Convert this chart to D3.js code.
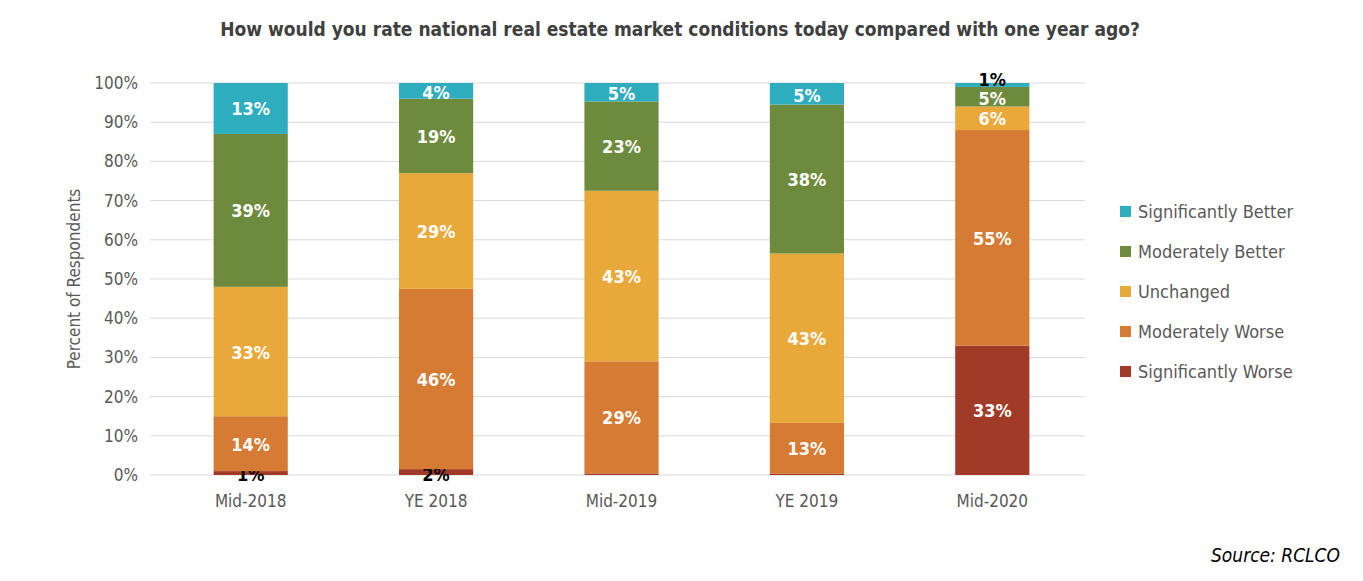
<!DOCTYPE html>
<html><head><meta charset="utf-8">
<script src="https://cdn.jsdelivr.net/npm/d3@7"></script>
<style>
body{margin:0;background:#fff;}
text{font-family:"Liberation Sans Narrow","DejaVu Sans Condensed",sans-serif;}
</style></head>
<body><svg id="chart" width="1363" height="581"></svg>
<script>
const periods = ["Mid-2018", "YE 2018", "Mid-2019", "YE 2019", "Mid-2020"];
const seriesNames = ["Significantly Worse", "Moderately Worse", "Unchanged", "Moderately Better", "Significantly Better"];
const sigWorse = [1, 1.5, 0.4, 0.3, 33];
const modWorse = [14, 46, 28.6, 13, 55];
const unchanged = [33, 29.5, 43.5, 43.2, 6];
const modBetter = [39, 19, 22.8, 38, 5];
const sigBetter = [13, 4, 4.7, 5.5, 1];
const labelText = [
  ["1%", "2%", "", "", "33%"],
  ["14%", "46%", "29%", "13%", "55%"],
  ["33%", "29%", "43%", "43%", "6%"],
  ["39%", "19%", "23%", "38%", "5%"],
  ["13%", "4%", "5%", "5%", "1%"]
];
const yTicks = [0, 10, 20, 30, 40, 50, 60, 70, 80, 90, 100];
const colors = ["#a13a26", "#d57b33", "#e9a93a", "#6e8b3d", "#2eadbf"];

const svg = d3.select("#chart");
const allSeries = [sigWorse, modWorse, unchanged, modBetter, sigBetter];
const rows = periods.map((p, i) => {
  const r = {period: p};
  seriesNames.forEach((s, k) => r[s] = allSeries[k][i]);
  return r;
});
const stacked = d3.stack().keys(seriesNames)(rows);

const x = d3.scaleBand().domain(periods).range([158, 1085]).paddingInner(0.6).paddingOuter(0.3);
const y = d3.scaleLinear().domain([0, 100]).range([475, 83]);

// grid
svg.append("g").selectAll("line").data(yTicks).join("line")
  .attr("x1", 150).attr("x2", 1085)
  .attr("y1", d => y(d)).attr("y2", d => y(d))
  .attr("stroke", "#d9d9d9").attr("stroke-width", 1);

svg.append("g").selectAll("text").data(yTicks).join("text")
  .attr("x", 138).attr("y", d => y(d) + 6)
  .attr("text-anchor", "end").attr("font-size", 17).attr("fill", "#595959")
  .text(d => d + "%");

svg.append("g").selectAll("text").data(periods).join("text")
  .attr("x", d => x(d) + x.bandwidth() / 2).attr("y", 507)
  .attr("text-anchor", "middle").attr("font-size", 17).attr("fill", "#595959")
  .text(d => d);

svg.append("text")
  .attr("transform", "translate(80," + y(50) + ") rotate(-90)")
  .attr("text-anchor", "middle").attr("font-size", 17).attr("fill", "#595959")
  .text("Percent of Respondents");

stacked.forEach((layer, k) => {
  const g = svg.append("g");
  g.selectAll("rect").data(layer).join("rect")
    .attr("x", d => x(d.data.period)).attr("width", x.bandwidth())
    .attr("y", d => y(d[1])).attr("height", d => y(d[0]) - y(d[1]))
    .attr("fill", colors[k]);
  g.selectAll("text").data(layer).join("text")
    .attr("x", d => x(d.data.period) + x.bandwidth() / 2)
    .attr("y", d => {
      const v = d[1] - d[0];
      if (v < 3 && k === 0) return y(0) + 6;
      if (v < 3) return y(d[1]) + 3;
      if (v < 6) return y((d[0] + d[1]) / 2) + 8;
      return y((d[0] + d[1]) / 2) + 7;
    })
    .attr("text-anchor", "middle").attr("font-size", 18).attr("font-weight", "bold")
    .attr("fill", d => (d[1] - d[0]) < 3 ? "#000" : "#fff")
    .text((d, i) => labelText[k][i]);
});

// legend
const legend = svg.append("g");
seriesNames.slice().reverse().forEach((s, i) => {
  const k = seriesNames.length - 1 - i;
  legend.append("rect").attr("x", 1120).attr("y", 206 + i * 40).attr("width", 11).attr("height", 11).attr("fill", colors[k]);
  legend.append("text").attr("x", 1138).attr("y", 218 + i * 40)
    .attr("font-size", 18).attr("fill", "#595959").text(s);
});

svg.append("text").attr("x", 680).attr("y", 36).attr("text-anchor", "middle")
  .attr("font-size", 19).attr("font-weight", "bold").attr("fill", "#404040")
  .text("How would you rate national real estate market conditions today compared with one year ago?");

svg.append("text").attr("x", 1340).attr("y", 562).attr("text-anchor", "end")
  .attr("font-size", 19).attr("font-style", "italic").attr("fill", "#000")
  .text("Source: RCLCO");
</script></body></html>
